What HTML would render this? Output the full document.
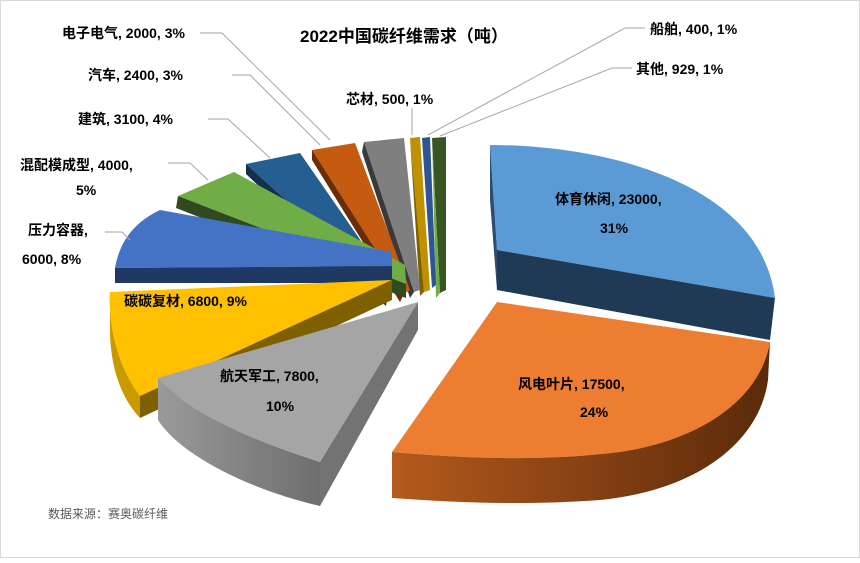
<!DOCTYPE html>
<html><head><meta charset="utf-8"><style>
body{margin:0;background:#fff}
svg text{font-family:"Liberation Sans","Noto Sans CJK SC",sans-serif}
</style></head><body>
<svg width="860" height="558" viewBox="0 0 860 558" xmlns="http://www.w3.org/2000/svg">
<rect x="0.5" y="0.5" width="859" height="557" fill="#fff" stroke="#d9d9d9"/>
<defs>
<linearGradient id="og" x1="0" x2="1"><stop offset="0" stop-color="#b45a1c"/><stop offset="1" stop-color="#5a2a0a"/></linearGradient>
<linearGradient id="gg" x1="0" x2="1"><stop offset="0" stop-color="#9a9a9a"/><stop offset="1" stop-color="#6e6e6e"/></linearGradient>
</defs>
<!-- small slices -->
<path d="M432,138 L446,137 L446,290 L440,293 Z" fill="#375623"/>
<path d="M432,138 L440,293 L436,298 Z" fill="#70ad47"/>
<path d="M422,138 L430,137 L436,285 L432,288 Z" fill="#2f5597"/>
<path d="M410,138 L420,137 L430,290 L424,292 Z" fill="#bf9000"/>
<path d="M410,138 L424,292 L420,296 Z" fill="#7f6000"/>
<path d="M364,142 L404,138 L420,290 L414,292 Z" fill="#7f7f7f"/>
<path d="M364,142 L414,292 L410,298 L362,152 Z" fill="#3a3a3a"/>
<path d="M312,150 L355,143 L410,290 L404,294 Z" fill="#c55a11"/>
<path d="M312,150 L404,294 L400,302 L312,160 Z" fill="#6b2c08"/>
<path d="M246,164 L300,153 L395,290 L388,292 Z" fill="#255e91"/>
<path d="M246,164 L388,292 L386,306 L246,174 Z" fill="#15304d"/>
<path d="M178,196 L234,172 L405,265 L406,284 Z" fill="#70ad47"/>
<path d="M178,196 L406,284 L406,298 L176,208 Z" fill="#2e4a1e"/>
<!-- pressure vessel -->
<path d="M115,268 C120,240 135,222 160,210 L392,252 L392,266 Z" fill="#4472c4"/>
<path d="M115,268 L392,266 L392,283 L115,283 Z" fill="#1f3864"/>
<!-- yellow -->
<path d="M110,292 L392,280 L140,396 C120,370 108,330 110,292 Z" fill="#ffc000"/>
<path d="M140,396 L392,280 L392,300 L140,418 Z" fill="#7f6000"/>
<path d="M110,292 C108,330 120,370 140,396 L140,418 C118,395 110,360 110,330 Z" fill="#c99a00"/>
<!-- gray -->
<path d="M158,378 L418,302 L320,462 C250,440 185,410 158,378 Z" fill="#a5a5a5"/>
<path d="M158,378 C185,410 250,440 320,462 L320,506 C250,490 180,455 158,420 Z" fill="url(#gg)"/>
<path d="M320,462 L418,302 L418,330 L320,506 Z" fill="#737373"/>
<!-- orange -->
<path d="M497,302 L770,342 C760,400 700,440 620,452 C540,462 460,458 392,452 Z" fill="#ed7d31"/>
<path d="M392,452 C460,458 540,462 620,452 C700,440 760,400 770,342 L768,380 C760,440 700,490 600,500 C520,506 450,502 392,498 Z" fill="url(#og)"/>
<!-- blue big -->
<path d="M490,145 C600,145 760,180 775,298 L497,250 Z" fill="#5b9bd5"/>
<path d="M497,250 L775,298 L770,340 L497,290 Z" fill="#203a56"/>
<path d="M490,145 L497,250 L497,290 L490,200 Z" fill="#2c4d70"/>
<g fill="#000" font-size="14" font-weight="bold">
<text x="300" y="42" font-size="17">2022中国碳纤维需求（吨）</text>
<text x="555" y="204">体育休闲, 23000,</text><text x="600" y="233">31%</text>
<text x="518" y="389">风电叶片, 17500,</text><text x="580" y="417">24%</text>
<text x="220" y="381">航天军工, 7800,</text><text x="266" y="411">10%</text>
<text x="124" y="306">碳碳复材, 6800, 9%</text>
<text x="28" y="235">压力容器,</text><text x="22" y="264">6000, 8%</text>
<text x="20" y="170">混配模成型, 4000,</text><text x="76" y="195">5%</text>
<text x="78" y="124">建筑, 3100, 4%</text>
<text x="88" y="80">汽车, 2400, 3%</text>
<text x="62" y="38">电子电气, 2000, 3%</text>
<text x="346" y="104">芯材, 500, 1%</text>
<text x="650" y="34">船舶, 400, 1%</text>
<text x="636" y="74">其他, 929, 1%</text>
</g>
<g stroke="#a6a6a6" fill="none" stroke-width="1">
<path d="M200,33 L222,33 L330,140"/>
<path d="M232,75 L250,75 L320,145"/>
<path d="M208,119 L228,119 L270,158"/>
<path d="M168,163 L190,163 L208,180"/>
<path d="M105,232 L122,232 L130,240"/>
<path d="M412,108 L412,135"/>
<path d="M645,28 L625,28 L428,135"/>
<path d="M632,68 L612,68 L440,136"/>
</g>
<text x="48" y="518" font-size="12" fill="#595959">数据来源：赛奥碳纤维</text>
</svg>
</body></html>
